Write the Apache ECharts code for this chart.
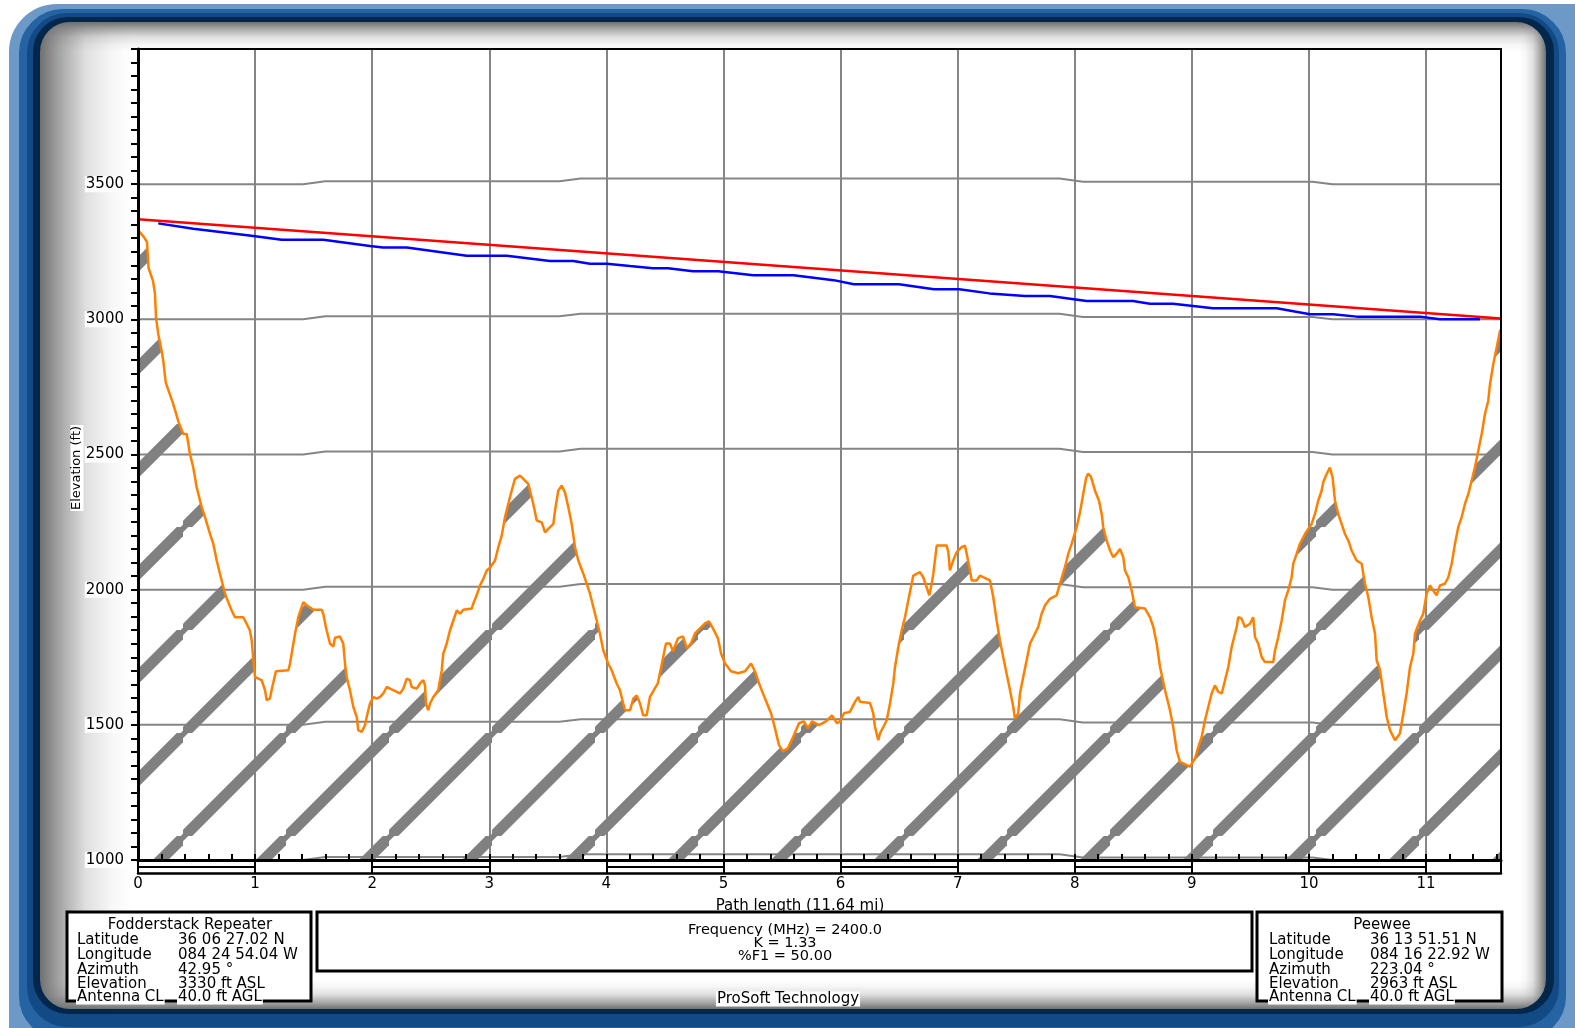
<!DOCTYPE html>
<html>
<head>
<meta charset="utf-8">
<script src="https://cdn.jsdelivr.net/npm/echarts@6/dist/echarts.min.js"></script>
<style>
html, body { margin: 0; padding: 0; background: #fff; }
#chart { width: 1575px; height: 1028px; }
</style>
</head>
<body>
<div id="chart"></div>
<script>
// ---- Path profile data: Fodderstack Repeater -> Peewee ----
const pathLengthMi = 11.64;
const elevMinFt = 1000;
const elevMaxFt = 4000;

// Ground profile along the path (miles, feet ASL)
const terrainMiles = [
  0, 0.051, 0.077, 0.085, 0.090, 0.128, 0.145, 0.154, 0.173, 0.202, 0.216, 0.237, 0.297, 0.348, 0.387, 0.416,
  0.444, 0.472, 0.501, 0.544, 0.572, 0.615, 0.643, 0.672, 0.700, 0.743, 0.771, 0.800, 0.828, 0.899, 0.928, 0.956,
  0.971, 0.985, 0.999, 1.027, 1.056, 1.085, 1.099, 1.127, 1.144, 1.178, 1.284, 1.298, 1.341, 1.369, 1.412, 1.441,
  1.497, 1.569, 1.582, 1.611, 1.640, 1.668, 1.682, 1.725, 1.753, 1.768, 1.782, 1.810, 1.839, 1.868, 1.881, 1.910,
  1.939, 1.953, 1.981, 2.009, 2.038, 2.067, 2.095, 2.124, 2.152, 2.180, 2.237, 2.266, 2.295, 2.323, 2.337, 2.380,
  2.408, 2.436, 2.451, 2.459, 2.479, 2.494, 2.522, 2.564, 2.594, 2.607, 2.636, 2.664, 2.693, 2.722, 2.750, 2.778,
  2.850, 2.863, 2.892, 2.921, 2.949, 2.978, 3.006, 3.049, 3.077, 3.106, 3.134, 3.162, 3.191, 3.219, 3.262, 3.290,
  3.333, 3.348, 3.376, 3.405, 3.448, 3.476, 3.504, 3.547, 3.561, 3.589, 3.618, 3.646, 3.675, 3.704, 3.732, 3.760,
  3.803, 3.860, 3.903, 3.945, 3.974, 4.016, 4.045, 4.088, 4.116, 4.144, 4.159, 4.202, 4.230, 4.259, 4.287, 4.315,
  4.344, 4.372, 4.440, 4.483, 4.509, 4.543, 4.569, 4.611, 4.654, 4.688, 4.722, 4.757, 4.799, 4.842, 4.876, 4.910,
  4.953, 4.979, 5.013, 5.064, 5.124, 5.184, 5.235, 5.269, 5.303, 5.354, 5.406, 5.440, 5.474, 5.508, 5.551, 5.602,
  5.645, 5.687, 5.722, 5.756, 5.816, 5.875, 5.927, 5.969, 5.995, 6.029, 6.080, 6.123, 6.151, 6.166, 6.251, 6.279,
  6.294, 6.322, 6.336, 6.365, 6.394, 6.422, 6.450, 6.465, 6.493, 6.522, 6.550, 6.578, 6.607, 6.621, 6.678, 6.706,
  6.735, 6.758, 6.778, 6.792, 6.821, 6.906, 6.920, 6.934, 6.962, 6.992, 7.034, 7.062, 7.077, 7.105, 7.120, 7.162,
  7.190, 7.248, 7.276, 7.304, 7.333, 7.361, 7.389, 7.418, 7.447, 7.475, 7.489, 7.517, 7.532, 7.560, 7.589, 7.617,
  7.646, 7.688, 7.717, 7.746, 7.788, 7.845, 7.874, 7.916, 7.945, 7.974, 8.016, 8.044, 8.070, 8.096, 8.113, 8.138,
  8.173, 8.207, 8.232, 8.243, 8.272, 8.301, 8.329, 8.358, 8.386, 8.414, 8.429, 8.457, 8.486, 8.514, 8.600, 8.642,
  8.671, 8.700, 8.728, 8.771, 8.813, 8.841, 8.870, 8.898, 8.984, 9.027, 9.055, 9.084, 9.112, 9.140, 9.169, 9.197,
  9.226, 9.255, 9.283, 9.311, 9.340, 9.383, 9.396, 9.425, 9.453, 9.496, 9.524, 9.539, 9.567, 9.596, 9.624, 9.695,
  9.710, 9.738, 9.767, 9.795, 9.823, 9.852, 9.866, 9.895, 9.923, 9.966, 9.994, 10.023, 10.051, 10.079, 10.108, 10.122,
  10.151, 10.179, 10.202, 10.222, 10.250, 10.279, 10.307, 10.336, 10.364, 10.407, 10.450, 10.478, 10.507, 10.535, 10.564, 10.578,
  10.607, 10.635, 10.664, 10.692, 10.735, 10.777, 10.806, 10.834, 10.863, 10.891, 10.905, 10.948, 10.976, 11.005, 11.033, 11.061,
  11.090, 11.119, 11.161, 11.190, 11.219, 11.247, 11.275, 11.304, 11.332, 11.361, 11.389, 11.417, 11.446, 11.475, 11.503, 11.531,
  11.546, 11.574, 11.603, 11.631, 11.64
];
const terrainFeet = [
  3330, 3304, 3286, 3227, 3190, 3142, 3094, 3005, 2946, 2883, 2846, 2766, 2692, 2618, 2576, 2576,
  2502, 2452, 2379, 2305, 2268, 2206, 2170, 2108, 2059, 1985, 1954, 1923, 1898, 1898, 1874, 1849,
  1812, 1739, 1677, 1671, 1665, 1628, 1591, 1598, 1635, 1698, 1702, 1726, 1837, 1898, 1954, 1942,
  1926, 1926, 1911, 1849, 1800, 1790, 1822, 1827, 1800, 1726, 1677, 1628, 1566, 1529, 1480, 1474,
  1499, 1529, 1579, 1603, 1597, 1603, 1616, 1640, 1634, 1628, 1616, 1634, 1671, 1665, 1640, 1634,
  1653, 1665, 1646, 1579, 1554, 1579, 1603, 1628, 1702, 1763, 1800, 1849, 1886, 1923, 1911, 1926,
  1930, 1948, 1979, 2016, 2040, 2071, 2081, 2108, 2157, 2200, 2268, 2317, 2366, 2410, 2422, 2410,
  2391, 2366, 2317, 2256, 2249, 2212, 2225, 2243, 2292, 2366, 2385, 2360, 2305, 2243, 2157, 2108,
  2059, 1985, 1911, 1837, 1775, 1726, 1702, 1653, 1628, 1579, 1554, 1554, 1597, 1609, 1579, 1535,
  1535, 1603, 1654, 1746, 1801, 1801, 1772, 1820, 1827, 1783, 1801, 1838, 1857, 1875, 1883, 1857,
  1820, 1764, 1727, 1698, 1691, 1698, 1727, 1698, 1654, 1598, 1543, 1487, 1425, 1402, 1414, 1462,
  1506, 1513, 1487, 1513, 1499, 1513, 1535, 1506, 1513, 1543, 1548, 1585, 1603, 1585, 1581, 1542,
  1492, 1443, 1468, 1492, 1517, 1579, 1653, 1714, 1788, 1849, 1898, 1960, 2022, 2052, 2065, 2046,
  2009, 1979, 2022, 2059, 2163, 2163, 2139, 2071, 2108, 2139, 2157, 2163, 2133, 2071, 2034, 2034,
  2052, 2040, 2034, 1972, 1886, 1812, 1751, 1689, 1628, 1566, 1523, 1542, 1616, 1677, 1739, 1800,
  1825, 1862, 1911, 1942, 1966, 1979, 2022, 2083, 2133, 2170, 2231, 2285, 2348, 2411, 2429, 2418,
  2366, 2329, 2274, 2231, 2182, 2145, 2120, 2133, 2151, 2120, 2071, 2046, 1997, 1935, 1930, 1898,
  1862, 1800, 1714, 1628, 1554, 1492, 1406, 1363, 1345, 1376, 1418, 1455, 1517, 1566, 1616, 1646,
  1622, 1616, 1665, 1714, 1788, 1862, 1898, 1893, 1862, 1874, 1898, 1825, 1800, 1751, 1732, 1732,
  1775, 1825, 1886, 1960, 1997, 2046, 2096, 2133, 2170, 2206, 2225, 2243, 2280, 2329, 2366, 2397,
  2428, 2452, 2415, 2329, 2280, 2243, 2206, 2182, 2145, 2108, 2096, 2022, 1972, 1898, 1837, 1739,
  1702, 1616, 1529, 1480, 1443, 1468, 1542, 1616, 1714, 1763, 1837, 1886, 1911, 1985, 2016, 1997,
  1979, 2016, 2022, 2046, 2096, 2170, 2231, 2268, 2317, 2354, 2403, 2452, 2514, 2576, 2650, 2699,
  2760, 2834, 2896, 2957, 2963
];

// Lower edge of the 50% first Fresnel zone (miles, feet)
const fresnelMiles = [
  0.173, 0.472, 0.985, 1.227, 1.582, 1.981, 2.092, 2.295, 2.807, 3.149, 3.518, 3.717, 3.860, 4.003,
  4.201, 4.397, 4.526, 4.740, 4.955, 5.254, 5.598, 5.941, 6.113, 6.499, 6.798, 7.014, 7.271, 7.575,
  7.788, 8.102, 8.497, 8.642, 8.839, 9.180, 9.724, 10.009, 10.205, 10.407, 10.948, 11.119, 11.460
];
const fresnelFeet = [
  3355, 3335, 3308, 3294, 3294, 3271, 3266, 3266, 3235, 3235, 3216, 3216, 3206, 3206,
  3197, 3189, 3189, 3178, 3178, 3163, 3163, 3145, 3130, 3130, 3111, 3111, 3096, 3086,
  3086, 3068, 3068, 3058, 3058, 3041, 3041, 3019, 3019, 3010, 3010, 3000, 3000
];

// Line of sight between the two antennas
const losMiles = [0, 11.64];
const losFeet = [3370, 3003];

// Earth-curvature reference lines (K = 1.33): level and bulge along the path
const gridLevelsFt = [1000, 1500, 2000, 2500, 3000, 3500];
const curveMiles = [0, 1.41, 1.6, 3.6, 3.78, 7.87, 8.07, 10.03, 10.2, 11.64];
const curveBulgeFt = [0, 0, 11, 11, 21, 21, 9, 9, 0, 0];

// Alternate blocks of the mileage scale bar
const scaleBarSegments = [[0, 1], [2, 3], [4, 5], [6, 7], [8, 9], [10, 11]];

// Site and link information
const siteAName = 'Fodderstack Repeater';
const siteBName = 'Peewee';
const rowLabels = ['Latitude', 'Longitude', 'Azimuth', 'Elevation', 'Antenna CL'];
const siteAValues = ['36 06 27.02 N', '084 24 54.04 W', '42.95 °', '3330 ft ASL', '40.0 ft AGL'];
const siteBValues = ['36 13 51.51 N', '084 16 22.92 W', '223.04 °', '2963 ft ASL', '40.0 ft AGL'];
const linkLines = ['Frequency (MHz) = 2400.0', 'K = 1.33', '%F1 = 50.00'];
const footerText = 'ProSoft Technology';
const xAxisTitle = 'Path length (11.64 mi)';
const yAxisTitle = 'Elevation (ft)';

// ---- helpers ----
const FONT = '"DejaVu Sans", "Liberation Sans", sans-serif';
const pairs = (xs, ys) => xs.map((x, i) => [x, ys[i]]);

// Diagonal hatch tile for the ground fill; the wrapped corner pieces are
// nudged a little so every stripe shows a small jog at the tile seams.
const hatchTile = 103;
const hatch = document.createElement('canvas');
hatch.width = hatchTile;
hatch.height = hatchTile;
(function () {
  const g = hatch.getContext('2d');
  g.strokeStyle = '#808080';
  g.lineWidth = 11;
  const stripe = (c) => {
    g.beginPath();
    g.moveTo(c - 130, 130);
    g.lineTo(130, c - 130);
    g.stroke();
  };
  stripe(hatchTile + 1.5);
  stripe(1.5 - 4);
  stripe(2 * hatchTile + 1.5 + 4);
})();

// Frame band: a wide stroke whose inner edge sits on the given rounded box
function band(box, color, z) {
  const W = 240;
  return {
    type: 'rect', silent: true, z: z,
    shape: { x: box[0] - W / 2, y: box[1] - W / 2, width: box[2] + W, height: box[3] + W, r: box[4] + W / 2 },
    style: { fill: 'none', stroke: color, lineWidth: W }
  };
}
function shade(x, y, w, h, dir) {
  const g = { type: 'linear', x: 0, y: 0, x2: 0, y2: 0, colorStops: [
    { offset: 0, color: 'rgba(112,112,112,1)' },
    { offset: 0.22, color: 'rgba(112,112,112,0.62)' },
    { offset: 0.5, color: 'rgba(112,112,112,0.22)' },
    { offset: 0.78, color: 'rgba(112,112,112,0.06)' },
    { offset: 1, color: 'rgba(112,112,112,0)' }
  ] };
  if (dir === 'right') { g.x2 = 1; }
  if (dir === 'left') { g.x = 1; }
  if (dir === 'down') { g.y2 = 1; }
  if (dir === 'up') { g.y = 1; }
  return { type: 'rect', silent: true, z: -30, shape: { x, y, width: w, height: h }, style: { fill: g } };
}
function txt(x, y, text, opts) {
  return {
    type: 'text', x: x, y: y, z: 20, silent: true,
    style: Object.assign({
      text: text, font: '15px ' + FONT, fill: '#000',
      textAlign: 'left', textVerticalAlign: 'middle',
      backgroundColor: '#fff', padding: [0, 1, 0, 1]
    }, opts || {})
  };
}

// ---- decoration: frame, panel shading, info boxes ----
const graphics = [
  shade(40, 22, 92, 987, 'right'),
  shade(40, 22, 1506, 30, 'down'),
  shade(1520, 22, 26, 987, 'left'),
  shade(40, 980, 1506, 29, 'up'),
  band([40, 22, 1506, 987, 30], '#03264b', -20),
  band([33, 17, 1521, 997, 35], '#124a86', -19),
  band([27, 13, 1532, 1014, 40], '#2563a3', -18),
  band([19, 9, 1547, 1031, 44], '#6c99c7', -17),
  band([9, 4, 1640, 1080, 48], '#ffffff', -16),

  { type: 'rect', z: 10, silent: true, shape: { x: 67, y: 912, width: 244, height: 89 }, style: { fill: '#fff', stroke: '#000', lineWidth: 3 } },
  { type: 'rect', z: 10, silent: true, shape: { x: 317, y: 912, width: 935, height: 59 }, style: { fill: '#fff', stroke: '#000', lineWidth: 3 } },
  { type: 'rect', z: 10, silent: true, shape: { x: 1257, y: 912, width: 245, height: 89 }, style: { fill: '#fff', stroke: '#000', lineWidth: 3 } },

  txt(190, 925, siteAName, { textAlign: 'center' }),
  txt(1382, 925, siteBName, { textAlign: 'center' }),
  txt(800, 906, xAxisTitle, { textAlign: 'center', backgroundColor: 'transparent' }),
  txt(788, 999, footerText, { textAlign: 'center' }),
  {
    type: 'text', x: 77, y: 468, rotation: Math.PI / 2, z: 20, silent: true,
    style: { text: yAxisTitle, font: '13px ' + FONT, fill: '#000', textAlign: 'center', textVerticalAlign: 'middle', backgroundColor: '#fff', padding: [0, 1, 0, 1] }
  }
];
const rowY = [940.5, 955, 970, 984, 997];
rowLabels.forEach((label, i) => {
  graphics.push(txt(76, rowY[i], label));
  graphics.push(txt(177, rowY[i], siteAValues[i]));
  graphics.push(txt(1268, rowY[i], label));
  graphics.push(txt(1369, rowY[i], siteBValues[i]));
});
linkLines.forEach((line, i) => {
  graphics.push(txt(785, 930.5 + i * 13, line, { textAlign: 'center', font: '14.5px ' + FONT }));
});

// ---- chart ----
const chart = echarts.init(document.getElementById('chart'), null, { renderer: 'canvas' });

const baseX = { type: 'value', min: 0, max: pathLengthMi, position: 'bottom', gridIndex: 0 };
const baseY = { type: 'value', min: elevMinFt, max: elevMaxFt, gridIndex: 0 };

const option = {
  backgroundColor: '#ffffff',
  animation: false,
  grid: { left: 138, top: 49, right: 74, bottom: 168, show: false },
  graphic: { elements: graphics },
  xAxis: [
    // vertical mile lines
    Object.assign({}, baseX, {
      interval: 1, z: 0,
      axisLine: { show: false }, axisTick: { show: false }, axisLabel: { show: false },
      splitLine: { show: true, lineStyle: { color: '#858585', width: 2 } }
    }),
    // main distance axis with labels and scale-bar dividers
    Object.assign({}, baseX, {
      interval: 1, z: 12,
      axisLine: { show: true, onZero: false, lineStyle: { color: '#000', width: 3 } },
      axisTick: { show: true, inside: false, length: 13, lineStyle: { color: '#000', width: 2 } },
      axisLabel: {
        show: true, margin: 17, fontSize: 15, fontFamily: FONT, color: '#000',
        formatter: v => (Number.isInteger(v) ? String(v) : '')
      },
      splitLine: { show: false }
    }),
    // 0.2 mi minor ticks
    Object.assign({}, baseX, {
      interval: 0.2, z: 12,
      axisLine: { show: false },
      axisTick: { show: true, inside: true, length: 6, lineStyle: { color: '#000', width: 2 } },
      axisLabel: { show: false }, splitLine: { show: false }
    }),
    // lower edge of the scale bar
    Object.assign({}, baseX, {
      offset: 13, z: 12,
      axisLine: { show: true, onZero: false, lineStyle: { color: '#000', width: 2.5 } },
      axisTick: { show: false }, axisLabel: { show: false }, splitLine: { show: false }
    }),
    // top frame
    Object.assign({}, baseX, {
      position: 'top', z: 12,
      axisLine: { show: true, onZero: false, lineStyle: { color: '#000', width: 2 } },
      axisTick: { show: false }, axisLabel: { show: false }, splitLine: { show: false }
    })
  ],
  yAxis: [
    Object.assign({}, baseY, {
      position: 'left', interval: 50, z: 12,
      axisLine: { show: true, onZero: false, lineStyle: { color: '#000', width: 3 } },
      axisTick: { show: true, inside: false, length: 7, lineStyle: { color: '#000', width: 2 } },
      axisLabel: {
        show: true, margin: 13, fontSize: 15, fontFamily: FONT, color: '#000',
        backgroundColor: '#fff', padding: [1, 1, 0, 1],
        formatter: v => (v % 500 === 0 && v < elevMaxFt ? String(v) : '')
      },
      splitLine: { show: false }
    }),
    Object.assign({}, baseY, {
      position: 'right', z: 12,
      axisLine: { show: true, onZero: false, lineStyle: { color: '#000', width: 2 } },
      axisTick: { show: false }, axisLabel: { show: false }, splitLine: { show: false }
    })
  ],
  series: [
    ...gridLevelsFt.map(level => ({
      type: 'line', name: 'Level ' + level, silent: true, z: 1,
      xAxisIndex: 0, yAxisIndex: 0,
      data: curveMiles.map((m, i) => [m, level + curveBulgeFt[i]]),
      symbol: 'none', lineStyle: { color: '#858585', width: 2 }
    })),
    {
      type: 'line', name: 'Terrain', silent: true, z: 3,
      xAxisIndex: 0, yAxisIndex: 0,
      data: pairs(terrainMiles, terrainFeet),
      symbol: 'none',
      lineStyle: { color: '#ff8000', width: 2.5 },
      areaStyle: { origin: 'start', opacity: 1, color: { image: hatch, repeat: 'repeat', x: 80, y: 12 } }
    },
    {
      type: 'line', name: '50% F1', silent: true, z: 4,
      xAxisIndex: 0, yAxisIndex: 0,
      data: pairs(fresnelMiles, fresnelFeet),
      symbol: 'none', lineStyle: { color: '#0000ff', width: 2.5 }
    },
    {
      type: 'line', name: 'Line of sight', silent: true, z: 5,
      xAxisIndex: 0, yAxisIndex: 0,
      data: pairs(losMiles, losFeet),
      symbol: 'none', lineStyle: { color: '#ff0000', width: 2.5 }
    },
    {
      type: 'custom', name: 'Scale bar', silent: true, z: 12, clip: false,
      xAxisIndex: 0, yAxisIndex: 0,
      data: scaleBarSegments,
      renderItem: (params, api) => {
        const a = api.coord([api.value(0), elevMinFt]);
        const b = api.coord([api.value(1), elevMinFt]);
        return {
          type: 'line',
          shape: { x1: a[0], y1: a[1] + 7, x2: b[0], y2: b[1] + 7 },
          style: { stroke: '#000', lineWidth: 2 }
        };
      }
    }
  ]
};
chart.setOption(option);
</script>
</body>
</html>
